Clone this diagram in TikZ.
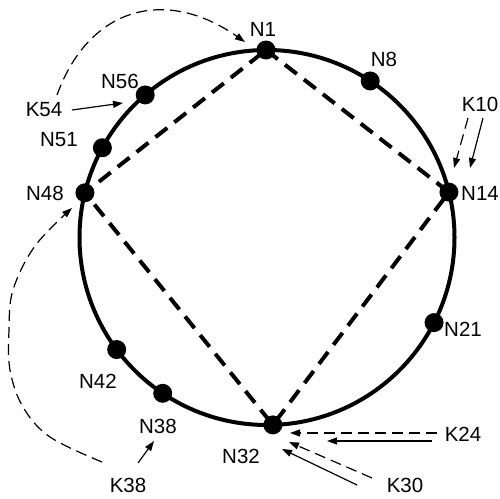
\documentclass[tikz,border=0pt]{standalone}
\usepackage{fontspec}
\setmainfont{Liberation Sans}
\usetikzlibrary{arrows.meta,calc,backgrounds}
\begin{document}
\begin{tikzpicture}[x=1pt,y=1pt,
  ring/.style={line width=4pt},
  chord/.style={line width=4pt,dash pattern=on 15pt off 9pt},
  dot/.style={circle,fill=black,inner sep=0pt,minimum size=19pt},
  lab/.style={font=\fontsize{20.5}{24}\selectfont,inner sep=0pt},
  tip/.style={-{Triangle[length=10pt,width=7pt]}},
  solidarrow/.style={tip,line width=1.2pt},
  dasharrow/.style={tip,line width=1.2pt,dash pattern=on 11pt off 6pt}]
\useasboundingbox (0,0) rectangle (500,498);
\coordinate (c) at (267,260.5);
\foreach \n/\a in {1/90.3,8/56.6,14/14,21/-27,32/-88.2,38/236.2,42/216.7,48/166.2,51/151.4,56/130.5}
  \node[dot] (N\n) at ($(c)+(\a:187.5)$) {};
\begin{pgfonlayer}{background}
  \draw[ring] (c) circle[radius=187.5];
  \draw[chord] (N1.center) -- (N14.center) -- (N32.center) -- (N48.center) -- cycle;
\end{pgfonlayer}
% node labels
\node[lab] (L1) at (263,469) {N1};
\node[lab] (L8) at (384,439) {N8};
\node[lab] (L14) at (480,305) {N14};
\node[lab] (L21) at (463,169) {N21};
\node[lab] (L32) at (241,42) {N32};
\node[lab] (L38) at (158,72) {N38};
\node[lab] (L42) at (98,117) {N42};
\node[lab] (L48) at (45,305) {N48};
\node[lab] (L51) at (59,358) {N51};
\node[lab] (L56) at (120,417) {N56};
% key labels
\node[lab] (K54) at (44,388) {K54};
\node[lab] (K10) at (480,394) {K10};
\node[lab] (K38) at (128,13) {K38};
\node[lab] (K24) at (463,64) {K24};
\node[lab] (K30) at (405,13) {K30};
% arrow end points
\coordinate (k54s) at (72,388); \coordinate (k54e) at (123,395);
\coordinate (k54cs) at (57,403); \coordinate (k54ce) at (245,456);
\coordinate (k10ds) at (468,380); \coordinate (k10de) at (454,330);
\coordinate (k10ss) at (483,380); \coordinate (k10se) at (470,330);
\coordinate (k24ds) at (437,65); \coordinate (k24de) at (290,65);
\coordinate (k24ss) at (432,57); \coordinate (k24se) at (327,57);
\coordinate (k30ds) at (372,20); \coordinate (k30de) at (289,56);
\coordinate (k30ss) at (357,13); \coordinate (k30se) at (282,49);
\coordinate (k38ss) at (138,35); \coordinate (k38se) at (154,57);
\coordinate (k38c0) at (102,36); \coordinate (k38c1) at (50,61);
\coordinate (k38c2) at (23,91); \coordinate (k38c3) at (10,128);
\coordinate (k38c4) at (9,168); \coordinate (k38c5) at (13,208);
\coordinate (k38c6) at (35,252); \coordinate (k38c7) at (72,290);
% arrows
\draw[solidarrow] (k54s) -- (k54e);
\draw[dasharrow] (k54cs) to[out=70,in=145,looseness=1.25] (k54ce);
\draw[dasharrow] (k10ds) -- (k10de);
\draw[solidarrow] (k10ss) -- (k10se);
\draw[dasharrow] (k24ds) -- (k24de);
\draw[solidarrow] (k24ss) -- (k24se);
\draw[dasharrow] (k30ds) -- (k30de);
\draw[solidarrow] (k30ss) -- (k30se);
\draw[solidarrow] (k38ss) -- (k38se);
\draw[dasharrow] plot[smooth,tension=0.6] coordinates {(k38c0) (k38c1) (k38c2) (k38c3) (k38c4) (k38c5) (k38c6) (k38c7)};
\end{tikzpicture}
\end{document}
